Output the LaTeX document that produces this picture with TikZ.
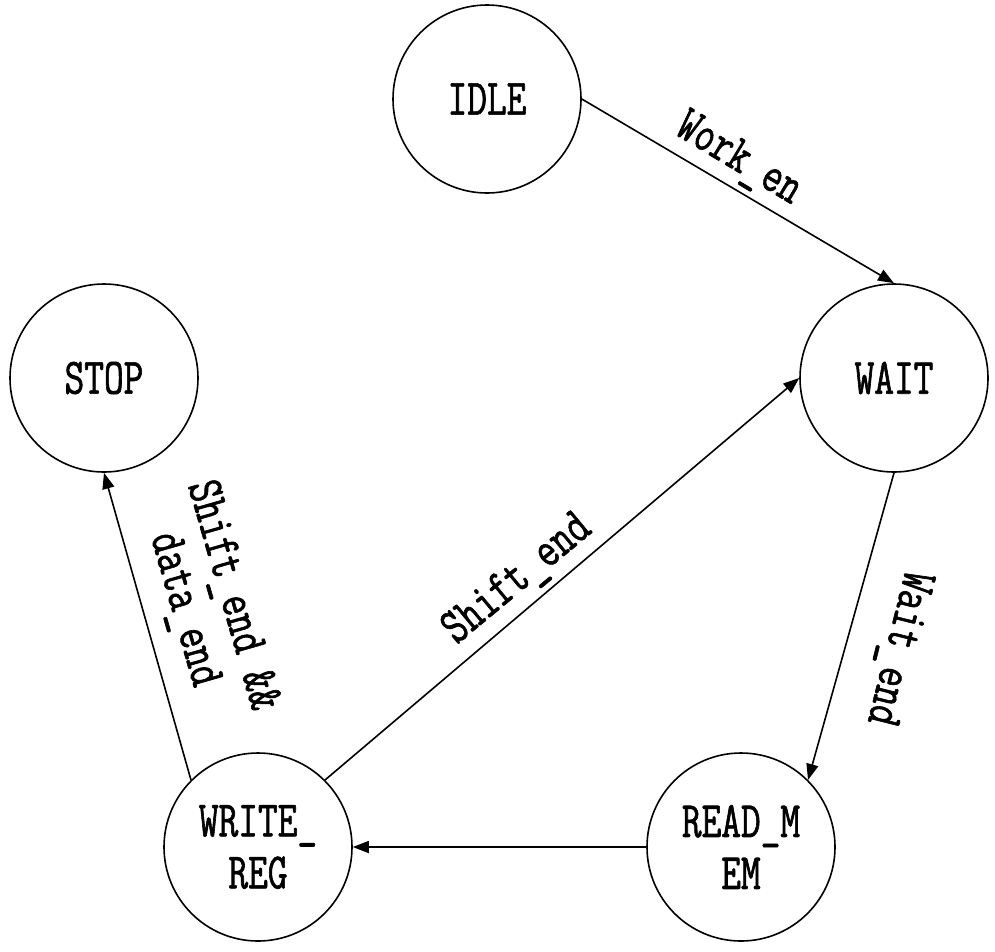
\documentclass[tikz,border=0pt]{standalone}
\usepackage{fontspec}
\newfontfamily\diagfont[FakeStretch=0.75,FakeBold=1.2]{Latin Modern Mono}
\usetikzlibrary{arrows.meta}
\begin{document}
\begin{tikzpicture}[x=1pt,y=-1pt,
  state/.style={circle, draw, line width=1.6pt, minimum size=188pt, inner sep=0pt,
    align=center, font=\diagfont\fontsize{51}{52}\selectfont},
  conn/.style={line width=1.6pt, -{Triangle[length=16pt,width=12pt]}},
  lbl/.style={inner sep=0pt, align=center, font=\diagfont\fontsize{51}{50}\selectfont}]
\useasboundingbox (0,0) rectangle (995,951);
\node[state] (idle) at (487,99) {IDLE};
\node[state] (wait) at (894,378) {WAIT};
\node[state] (stop) at (104,378) {STOP};
\node[state] (wreg) at (258,847) {WRITE\_\\REG};
\node[state] (rmem) at (741,847) {READ\_M\\EM};
\draw[conn] (idle.east) -- (wait.north);
\draw[conn] (wait.south) -- (rmem.45);
\draw[conn] (rmem.west) -- (wreg.east);
\draw[conn] (wreg.45) -- (wait.west);
\draw[conn] (wreg.135) -- (stop.south);
\node[lbl, rotate=-31] (l1) at (738,160) {Work\_en};
\node[lbl, rotate=-104] (l2) at (897,648) {Wait\_end};
\node[lbl, rotate=39.6] (l3) at (518,580) {Shift\_end};
\node[lbl, rotate=-74] (l4) at (207,603) {Shift\_end \&\&\\data\_end};
\end{tikzpicture}
\end{document}
